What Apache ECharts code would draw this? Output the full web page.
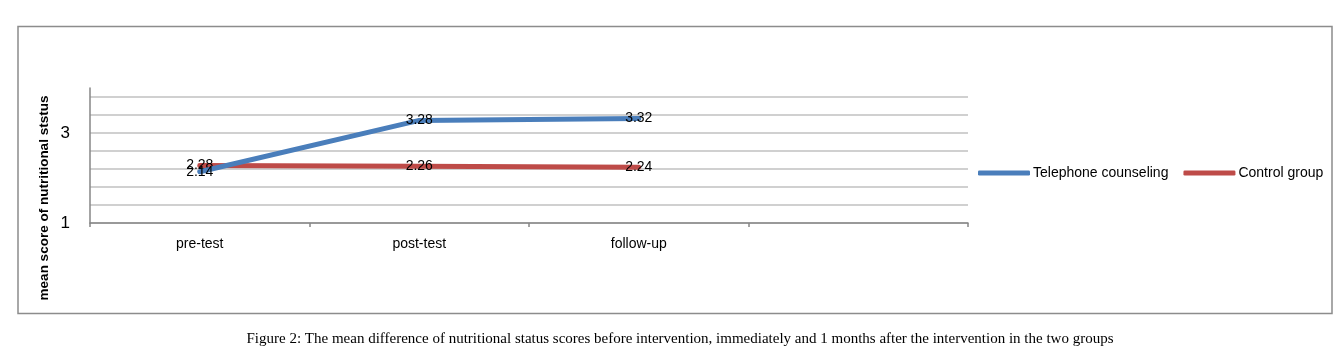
<!DOCTYPE html>
<html><head><meta charset="utf-8">
<script src="https://cdn.jsdelivr.net/npm/echarts@6/dist/echarts.min.js"></script>
<style>html,body{margin:0;padding:0;background:#fff}#c{width:1342px;height:363px}</style>
</head><body><div id="c"></div>
<script>
var categories = ['pre-test', 'post-test', 'follow-up', ''];
var telephone = [2.14, 3.28, 3.32];
var control = [2.28, 2.26, 2.24];
var yLabels = [1, 3];
var seriesNames = ['Telephone counseling', 'Control group'];
var yTitle = 'mean score of nutritional ststus';
var caption = 'Figure 2: The mean difference of nutritional status scores before intervention, immediately and 1 months after the intervention in the two groups';

var chart = echarts.init(document.getElementById('c'), null, {renderer: 'canvas'});
var FONT = 'Liberation Sans';
var gridColors = [];
for (var i = 0; i < 8; i++) gridColors.push('#c0c0c0');
gridColors.push('rgba(0,0,0,0)');

function lbl() {
  return {show: true, position: 'inside', color: '#000', fontFamily: FONT, fontSize: 14,
    formatter: function (p) { return p.value.toFixed(2); }};
}

chart.setOption({
  animation: false,
  grid: {left: 90, right: 374, top: 88, bottom: 140, containLabel: false},
  legend: {
    data: seriesNames, left: 973, top: 161, itemWidth: 52, itemHeight: 5, itemGap: 15,
    icon: 'roundRect',
    textStyle: {fontFamily: FONT, fontSize: 14, color: '#000', padding: [0, 0, 0, -2]}
  },
  xAxis: {
    type: 'category', data: categories, boundaryGap: true,
    axisLine: {lineStyle: {color: '#868686', width: 1.5}},
    axisTick: {show: true, length: 4, lineStyle: {color: '#868686', width: 1.5}},
    axisLabel: {color: '#000', fontFamily: FONT, fontSize: 14, margin: 14}
  },
  yAxis: {
    type: 'value', min: 1, max: 4, interval: 0.4,
    axisLine: {show: true, lineStyle: {color: '#868686', width: 1.5}},
    axisTick: {show: false},
    axisLabel: {color: '#000', fontFamily: FONT, fontSize: 17, margin: 20,
      formatter: function (v) {
        for (var k = 0; k < yLabels.length; k++) if (Math.abs(v - yLabels[k]) < 1e-6) return String(yLabels[k]);
        return '';
      }},
    splitLine: {show: true, lineStyle: {color: gridColors, width: 1.5}}
  },
  series: [
    {name: seriesNames[0], type: 'line', data: telephone, symbol: 'circle', symbolSize: 0, showSymbol: true,
      lineStyle: {color: '#4a7ebb', width: 5, cap: 'round', join: 'round'}, itemStyle: {color: '#4a7ebb'},
      label: lbl(), z: 3},
    {name: seriesNames[1], type: 'line', data: control, symbol: 'circle', symbolSize: 0, showSymbol: true,
      lineStyle: {color: '#be4b48', width: 5, cap: 'round', join: 'round'}, itemStyle: {color: '#be4b48'},
      label: lbl(), z: 2}
  ],
  graphic: [
    {type: 'rect', shape: {x: 18, y: 26.5, width: 1314, height: 287}, style: {fill: 'none', stroke: '#8c8c8c', lineWidth: 1.5}, silent: true},
    {type: 'text', x: 44, y: 198, rotation: Math.PI / 2,
      style: {text: yTitle, font: 'bold 13.5px "Liberation Sans"', fill: '#000', textAlign: 'center', textVerticalAlign: 'middle'}},
    {type: 'text', x: 680, y: 339,
      style: {text: caption, font: '15px "Liberation Serif"', fill: '#000', textAlign: 'center', textVerticalAlign: 'middle'}}
  ]
});
</script></body></html>
